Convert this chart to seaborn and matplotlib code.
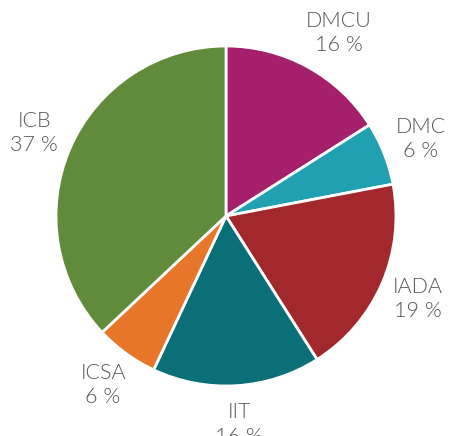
import numpy as np
import matplotlib
matplotlib.use("Agg")
import matplotlib.pyplot as plt
import seaborn as sns

# DATA
labels = ["DMCU", "DMC", "IADA", "IIT", "ICSA", "ICB"]
shares = [16, 6, 19, 16, 6, 37]
colors = ["#a51f6b", "#21a0b2", "#a3282b", "#0b6f78", "#e8762a", "#5f8b3b"]

# STYLE
sns.set_theme(style="white")
plt.rcParams["font.family"] = ["Lato", "DejaVu Sans"]

W, H = 449, 436
R = 170          # pie radius in px
CX, CY = 226, 216  # pie centre (px from left / top)

fig = plt.figure(figsize=(W / 100, H / 100), dpi=100)
ax = fig.add_axes([0, 0, 1, 1])

texts_in = [f"{l}\n{v} %" for l, v in zip(labels, shares)]
wedges, texts = ax.pie(
    shares,
    labels=texts_in,
    colors=sns.color_palette(colors),
    startangle=90,
    counterclock=False,
    labeldistance=1.23,
    wedgeprops=dict(edgecolor="white", linewidth=2),
    textprops=dict(fontsize=15.5, color="#555555", fontweight=300,
                   linespacing=1.28),
)
for t in texts:
    t.set_horizontalalignment("center")
    t.set_verticalalignment("center")
# DMCU label sits a bit further right in the reference
texts[0].set_x(texts[0].get_position()[0] + 0.07)

ax.set_xlim(-CX / R, (W - CX) / R)
ax.set_ylim(-(H - CY) / R, CY / R)
ax.set_aspect("equal")
ax.axis("off")

fig.savefig("out.png", dpi=100, facecolor="white")
